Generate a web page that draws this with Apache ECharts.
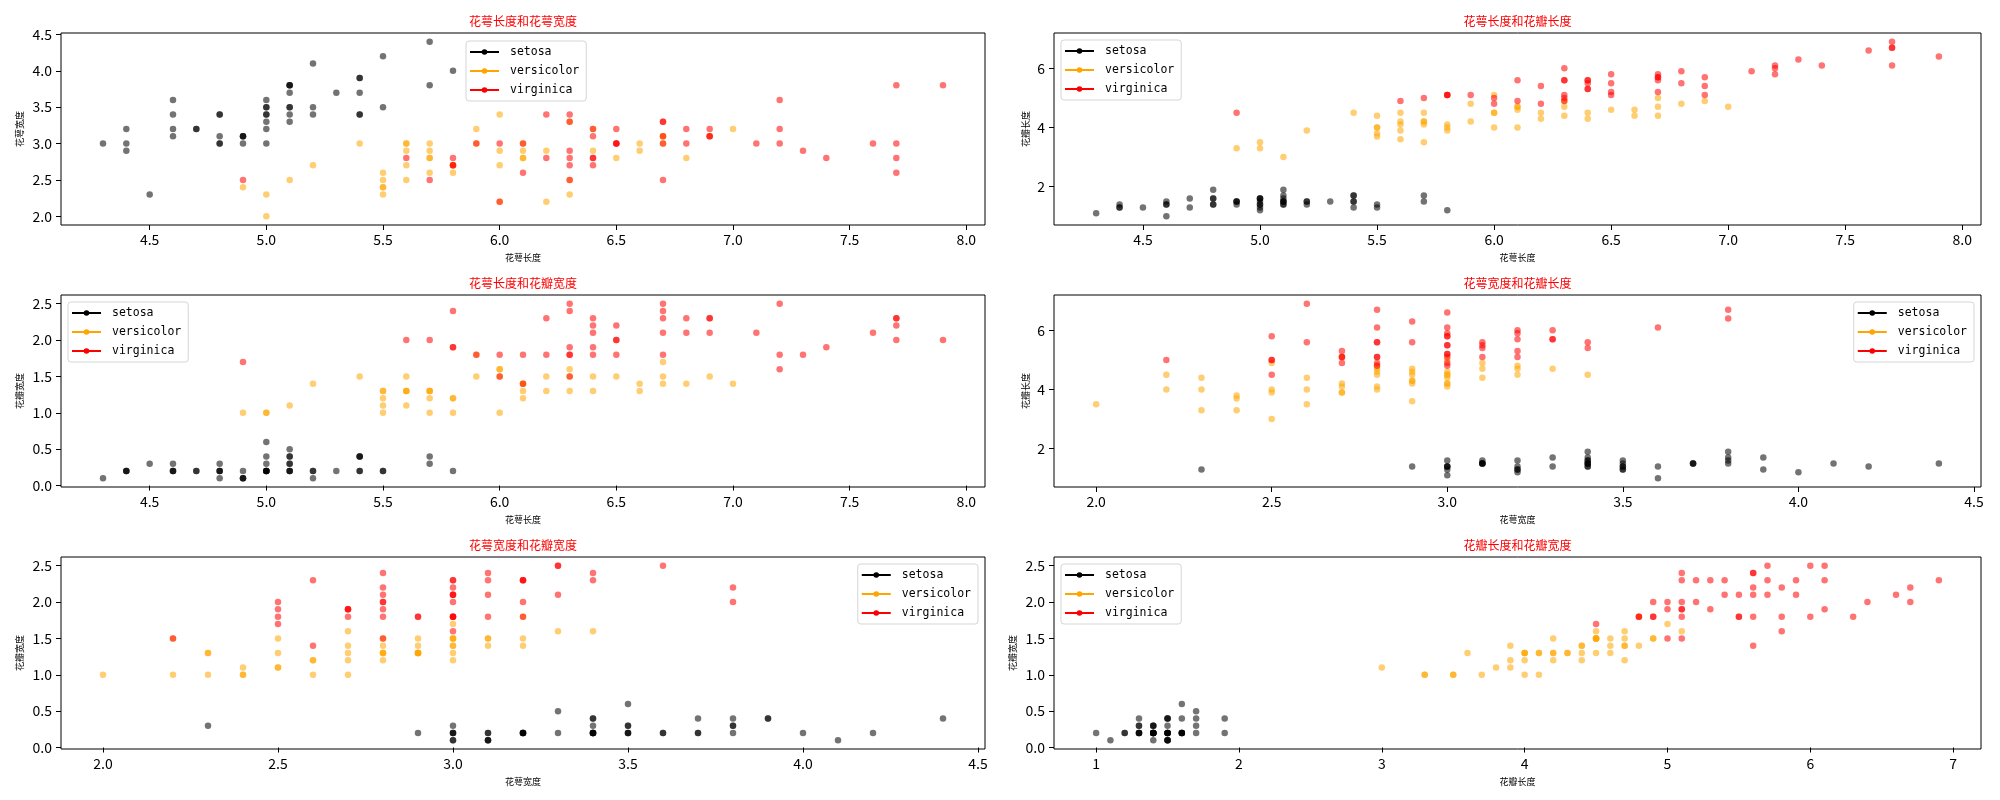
<!DOCTYPE html>
<html>
<head>
<meta charset="utf-8">
<script src="https://cdn.jsdelivr.net/npm/echarts@6/dist/echarts.min.js"></script>
<style>
html,body{margin:0;padding:0;background:#fff;}
#chart{width:2000px;height:800px;}
</style>
</head>
<body>
<div id="chart"></div>
<script>
// ---- data (Iris dataset, rows 1-50 setosa, 51-100 versicolor, 101-150 virginica) ----
const speciesNames = ['setosa', 'versicolor', 'virginica'];
const speciesCounts = [50, 50, 50];

const sepalLength = [
5.1,4.9,4.7,4.6,5.0,5.4,4.6,5.0,4.4,4.9, 5.4,4.8,4.8,4.3,5.8,5.7,5.4,5.1,5.7,5.1,
5.4,5.1,4.6,5.1,4.8,5.0,5.0,5.2,5.2,4.7, 4.8,5.4,5.2,5.5,4.9,5.0,5.5,4.9,4.4,5.1,
5.0,4.5,4.4,5.0,5.1,4.8,5.1,4.6,5.3,5.0,
7.0,6.4,6.9,5.5,6.5,5.7,6.3,4.9,6.6,5.2, 5.0,5.9,6.0,6.1,5.6,6.7,5.6,5.8,6.2,5.6,
5.9,6.1,6.3,6.1,6.4,6.6,6.8,6.7,6.0,5.7, 5.5,5.5,5.8,6.0,5.4,6.0,6.7,6.3,5.6,5.5,
5.5,6.1,5.8,5.0,5.6,5.7,5.7,6.2,5.1,5.7,
6.3,5.8,7.1,6.3,6.5,7.6,4.9,7.3,6.7,7.2, 6.5,6.4,6.8,5.7,5.8,6.4,6.5,7.7,7.7,6.0,
6.9,5.6,7.7,6.3,6.7,7.2,6.2,6.1,6.4,7.2, 7.4,7.9,6.4,6.3,6.1,7.7,6.3,6.4,6.0,6.9,
6.7,6.9,5.8,6.8,6.7,6.7,6.3,6.5,6.2,5.9
];
const sepalWidth = [
3.5,3.0,3.2,3.1,3.6,3.9,3.4,3.4,2.9,3.1, 3.7,3.4,3.0,3.0,4.0,4.4,3.9,3.5,3.8,3.8,
3.4,3.7,3.6,3.3,3.4,3.0,3.4,3.5,3.4,3.2, 3.1,3.4,4.1,4.2,3.1,3.2,3.5,3.1,3.0,3.4,
3.5,2.3,3.2,3.5,3.8,3.0,3.8,3.2,3.7,3.3,
3.2,3.2,3.1,2.3,2.8,2.8,3.3,2.4,2.9,2.7, 2.0,3.0,2.2,2.9,2.9,3.1,3.0,2.7,2.2,2.5,
3.2,2.8,2.5,2.8,2.9,3.0,2.8,3.0,2.9,2.6, 2.4,2.4,2.7,2.7,3.0,3.4,3.1,2.3,3.0,2.5,
2.6,3.0,2.6,2.3,2.7,3.0,2.9,2.9,2.5,2.8,
3.3,2.7,3.0,2.9,3.0,3.0,2.5,2.9,2.5,3.6, 3.2,2.7,3.0,2.5,2.8,3.2,3.0,3.8,2.6,2.2,
3.2,2.8,2.8,2.7,3.3,3.2,2.8,3.0,2.8,3.0, 2.8,3.8,2.8,2.8,2.6,3.0,3.4,3.1,3.0,3.1,
3.1,3.1,2.7,3.2,3.3,3.0,2.5,3.0,3.4,3.0
];
const petalLength = [
1.4,1.4,1.3,1.5,1.4,1.7,1.4,1.5,1.4,1.5, 1.5,1.6,1.4,1.1,1.2,1.5,1.3,1.4,1.7,1.5,
1.7,1.5,1.0,1.7,1.9,1.6,1.6,1.5,1.4,1.6, 1.6,1.5,1.5,1.4,1.5,1.2,1.3,1.5,1.3,1.5,
1.3,1.3,1.3,1.6,1.9,1.4,1.6,1.4,1.5,1.4,
4.7,4.5,4.9,4.0,4.6,4.5,4.7,3.3,4.6,3.9, 3.5,4.2,4.0,4.7,3.6,4.4,4.5,4.1,4.5,3.9,
4.8,4.0,4.9,4.7,4.3,4.4,4.8,5.0,4.5,3.5, 3.8,3.7,3.9,5.1,4.5,4.5,4.7,4.4,4.1,4.0,
4.4,4.6,4.0,3.3,4.2,4.2,4.2,4.3,3.0,4.1,
6.0,5.1,5.9,5.6,5.8,6.6,4.5,6.3,5.8,6.1, 5.1,5.3,5.5,5.0,5.1,5.3,5.5,6.7,6.9,5.0,
5.7,4.9,6.7,4.9,5.7,6.0,4.8,4.9,5.6,5.8, 6.1,6.4,5.6,5.1,5.6,6.1,5.6,5.5,4.8,5.4,
5.6,5.1,5.1,5.9,5.7,5.2,5.0,5.2,5.4,5.1
];
const petalWidth = [
0.2,0.2,0.2,0.2,0.2,0.4,0.3,0.2,0.2,0.1, 0.2,0.2,0.1,0.1,0.2,0.4,0.4,0.3,0.3,0.3,
0.2,0.4,0.2,0.5,0.2,0.2,0.4,0.2,0.2,0.2, 0.2,0.4,0.1,0.2,0.1,0.2,0.2,0.1,0.2,0.2,
0.3,0.3,0.2,0.6,0.4,0.3,0.2,0.2,0.2,0.2,
1.4,1.5,1.5,1.3,1.5,1.3,1.6,1.0,1.3,1.4, 1.0,1.5,1.0,1.4,1.3,1.4,1.5,1.0,1.5,1.1,
1.8,1.3,1.5,1.2,1.3,1.4,1.4,1.7,1.5,1.0, 1.1,1.0,1.2,1.6,1.5,1.6,1.5,1.3,1.3,1.3,
1.2,1.4,1.2,1.0,1.3,1.2,1.3,1.3,1.1,1.3,
2.5,1.9,2.1,1.8,2.2,2.1,1.7,1.8,1.8,2.5, 2.0,1.9,2.1,2.0,2.4,2.3,1.8,2.2,2.3,1.5,
2.3,2.0,2.0,1.8,2.1,1.8,1.8,1.8,2.1,1.6, 1.9,2.0,2.2,1.5,1.4,2.3,2.4,1.8,1.8,2.1,
2.4,2.3,1.9,2.3,2.5,2.3,1.9,2.0,2.3,1.8
];

// tick labels
const ticksSepalLength = ['4.5','5.0','5.5','6.0','6.5','7.0','7.5','8.0'];
const ticksSepalWidth = ['2.0','2.5','3.0','3.5','4.0','4.5'];
const ticksPetalLengthY = ['2','4','6'];
const ticksPetalLengthX = ['1','2','3','4','5','6','7'];
const ticksPetalWidth = ['0.0','0.5','1.0','1.5','2.0','2.5'];

// measurement names
const nameSL = '花萼长度', nameSW = '花萼宽度', namePL = '花瓣长度', namePW = '花瓣宽度';

const panelTitles = ['花萼长度和花萼宽度','花萼长度和花瓣长度','花萼长度和花瓣宽度','花萼宽度和花瓣长度','花萼宽度和花瓣宽度','花瓣长度和花瓣宽度'];
const panelX = [sepalLength, sepalLength, sepalLength, sepalWidth, sepalWidth, petalLength];
const panelY = [sepalWidth, petalLength, petalWidth, petalLength, petalWidth, petalWidth];
const panelXNames = [nameSL, nameSL, nameSL, nameSW, nameSW, namePL];
const panelYNames = [nameSW, namePL, namePW, namePL, namePW, namePW];
const panelXTicks = [ticksSepalLength, ticksSepalLength, ticksSepalLength, ticksSepalWidth, ticksSepalWidth, ticksPetalLengthX];
const panelYTicks = [ticksSepalWidth, ticksPetalLengthY, ticksPetalWidth, ticksPetalLengthY, ticksPetalWidth, ticksPetalWidth];

// ---- layout / styles ----
const colors = ['#000000', '#ffa500', '#ff0000'];
const colLeft = [61, 1054], colWidth = [924, 927];
const rowTop = [33, 295, 557], rowHeight = 192;
const yNameGap = [37, 24, 37, 24, 37, 37];
const legendPos = [
  {left: 466, top: 41},
  {left: 1061, top: 40},
  {left: 68, top: 302},
  {right: 26, top: 302},
  {right: 1022, top: 564},
  {left: 1061, top: 564}
];
const FONT = 'Noto Sans CJK SC';
const LEGEND_FONT = 'DejaVu Sans Mono';
const legendIcon = 'path://M0,1.8L29,1.8L29,3.8L0,3.8Z M14.5,0 A2.8,2.8 0 1 1 14.5,5.6 A2.8,2.8 0 1 1 14.5,0 Z';

function limits(arr) {
  let lo = Math.min(...arr), hi = Math.max(...arr);
  const r = hi - lo;
  return [lo - 0.05 * r, hi + 0.05 * r];
}

const grids = [], xAxes = [], yAxes = [], series = [], titles = [], legends = [];
for (let p = 0; p < 6; p++) {
  const col = p % 2, row = Math.floor(p / 2);
  grids.push({
    left: colLeft[col], top: rowTop[row], width: colWidth[col], height: rowHeight,
    show: true, borderColor: '#000', borderWidth: 1, backgroundColor: 'transparent', containLabel: false
  });
  const xl = limits(panelX[p]), yl = limits(panelY[p]);
  const xt = panelXTicks[p], yt = panelYTicks[p];
  xAxes.push({
    type: 'value', gridIndex: p, min: xl[0], max: xl[1],
    name: panelXNames[p], nameLocation: 'middle', nameGap: 28,
    nameTextStyle: {fontSize: 9, color: '#000', fontFamily: FONT},
    axisLine: {show: false},
    splitLine: {show: false},
    axisTick: {show: true, inside: false, length: 5, lineStyle: {color: '#000'}, customValues: xt.map(Number)},
    axisLabel: {
      color: '#000', fontSize: 14, fontFamily: FONT, margin: 8,
      customValues: xt.map(Number),
      formatter: v => { const s = xt.find(t => Math.abs(Number(t) - v) < 1e-9); return s !== undefined ? s : ''; }
    }
  });
  yAxes.push({
    type: 'value', gridIndex: p, min: yl[0], max: yl[1],
    name: panelYNames[p], nameLocation: 'middle', nameGap: yNameGap[p], nameRotate: 90,
    nameTextStyle: {fontSize: 9, color: '#000', fontFamily: FONT},
    axisLine: {show: false},
    splitLine: {show: false},
    axisTick: {show: true, inside: false, length: 5, lineStyle: {color: '#000'}, customValues: yt.map(Number)},
    axisLabel: {
      color: '#000', fontSize: 14, fontFamily: FONT, margin: 9,
      customValues: yt.map(Number),
      formatter: v => { const s = yt.find(t => Math.abs(Number(t) - v) < 1e-9); return s !== undefined ? s : ''; }
    }
  });
  titles.push({
    text: panelTitles[p],
    left: colLeft[col] + colWidth[col] / 2, top: rowTop[row] - 18,
    textAlign: 'center', padding: 0,
    textStyle: {color: '#ff0000', fontSize: 12, fontWeight: 'normal', fontFamily: FONT}
  });
  legends.push(Object.assign({
    orient: 'vertical', selectedMode: false,
    data: speciesNames.map(n => ({name: n, icon: legendIcon})),
    itemWidth: 29, itemHeight: 6, itemGap: 5, symbolKeepAspect: true,
    itemStyle: {opacity: 1},
    textStyle: {fontSize: 11.5, color: '#000', fontFamily: LEGEND_FONT, lineHeight: 14, padding: [0, 0, 0, 6]},
    backgroundColor: 'rgba(255,255,255,0.85)', borderColor: '#d5d5d5', borderWidth: 1, borderRadius: 3,
    padding: [4, 7, 4, 4]
  }, legendPos[p]));

  let start = 0;
  for (let s = 0; s < speciesNames.length; s++) {
    const pts = [];
    for (let i = start; i < start + speciesCounts[s]; i++) pts.push([panelX[p][i], panelY[p][i]]);
    start += speciesCounts[s];
    series.push({
      type: 'scatter', name: speciesNames[s], xAxisIndex: p, yAxisIndex: p,
      data: pts, symbol: 'circle', symbolSize: 6.5, silent: true,
      itemStyle: {color: colors[s], opacity: 0.55},
      emphasis: {disabled: true}
    });
  }
}

const chart = echarts.init(document.getElementById('chart'), null, {renderer: 'canvas'});
chart.setOption({
  animation: false,
  backgroundColor: '#fff',
  title: titles,
  legend: legends,
  grid: grids,
  xAxis: xAxes,
  yAxis: yAxes,
  series: series
});
</script>
</body>
</html>
